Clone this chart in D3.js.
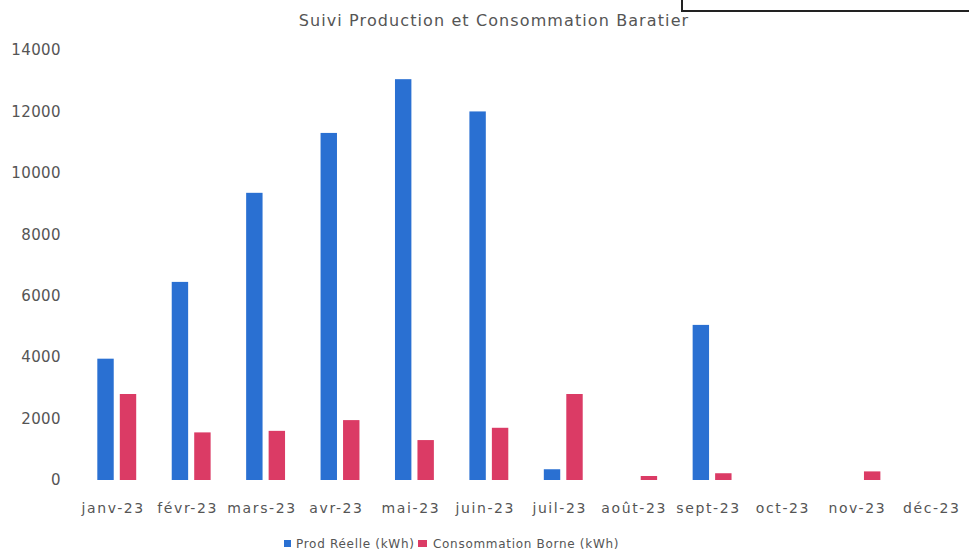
<!DOCTYPE html>
<html>
<head>
<meta charset="utf-8">
<script src="https://cdn.jsdelivr.net/npm/d3@7"></script>
<style>
  body { margin: 0; background: #fff; }
  text { font-family: "DejaVu Sans", sans-serif; fill: #555; }
</style>
</head>
<body>
<div id="chart-div"></div>
<script>
// data
const months = ["janv-23", "févr-23", "mars-23", "avr-23", "mai-23", "juin-23",
                "juil-23", "août-23", "sept-23", "oct-23", "nov-23", "déc-23"];
const prodReelle = [3950, 6450, 9350, 11300, 13050, 12000, 350, 0, 5050, 0, 0, 0];
const consoBorne = [2800, 1550, 1600, 1950, 1300, 1700, 2800, 130, 220, 0, 280, 0];
const yTicks = [0, 2000, 4000, 6000, 8000, 10000, 12000, 14000];
const seriesNames = ["Prod Réelle (kWh)", "Consommation Borne (kWh)"];
const colors = ["#2a70d2", "#db3b65"];

/* size of the svg */
const width = 969;
const height = 555;
const plotLeft = 76, plotRight = 969, plotTop = 50, plotBottom = 480;

const svg = d3.select("#chart-div")
              .append("svg")
              .attr("width", width)
              .attr("height", height);

const xScale = d3.scaleBand().domain(months).range([plotLeft, plotRight]);
const subScale = d3.scaleBand().domain([0, 1])
                   .range([0, xScale.bandwidth()])
                   .paddingInner(0.27).paddingOuter(0.79).align(0.6);
const yScale = d3.scaleLinear().domain([0, 14000]).range([plotBottom, plotTop]);

// y axis, labels only
const yAxis = d3.axisLeft(yScale).tickValues(yTicks).tickFormat(d3.format("d"))
                .tickSize(0).tickPadding(0);
svg.append("g")
   .attr("transform", `translate(${plotLeft - 15},0)`)
   .call(yAxis)
   .call(g => g.select(".domain").remove())
   .selectAll("text")
   .style("font-size", "15px")
   .style("font-family", "DejaVu Sans")
   .style("letter-spacing", "0.4px")
   .attr("fill", "#555");

// x axis, labels only
const xAxis = d3.axisBottom(xScale).tickSize(0).tickPadding(0);
svg.append("g")
   .attr("transform", `translate(0,${plotBottom + 23})`)
   .call(xAxis)
   .call(g => g.select(".domain").remove())
   .selectAll("text")
   .style("font-size", "14px")
   .style("font-family", "DejaVu Sans")
   .style("letter-spacing", "1.6px")
   .attr("fill", "#555");

// bars
const rows = months.map((m, i) => ({month: m, vals: [prodReelle[i], consoBorne[i]]}));
const groups = svg.selectAll("g.month")
   .data(rows)
   .enter()
   .append("g")
   .attr("class", "month")
   .attr("transform", (d) => `translate(${xScale(d.month)},0)`);

groups.selectAll("rect")
   .data((d) => d.vals.map((v, k) => ({k: k, v: v})).filter((e) => e.v > 0))
   .enter()
   .append("rect")
   .attr("x", (e) => subScale(e.k))
   .attr("y", (e) => yScale(e.v))
   .attr("width", subScale.bandwidth())
   .attr("height", (e) => plotBottom - yScale(e.v))
   .attr("fill", (e) => colors[e.k]);

// title
svg.append("text")
   .attr("x", 494)
   .attr("y", 26)
   .attr("text-anchor", "middle")
   .style("font-size", "16px")
   .style("letter-spacing", "1.1px")
   .text("Suivi Production et Consommation Baratier");

// the cut-off box in the top right corner
svg.append("path")
   .attr("d", "M682,0 V11 H969")
   .attr("fill", "none")
   .attr("stroke", "#222")
   .attr("stroke-width", 2);

// legend
const legendX = [284, 418];
const legend = svg.selectAll("g.legend")
   .data(seriesNames)
   .enter()
   .append("g")
   .attr("class", "legend")
   .attr("transform", (d, i) => `translate(${legendX[i]},548)`);
legend.append("rect")
   .attr("x", 0).attr("y", -8)
   .attr("width", (d, i) => i ? 9 : 7).attr("height", 7)
   .attr("fill", (d, i) => colors[i]);
legend.append("text")
   .attr("x", (d, i) => i ? 15 : 12)
   .attr("y", 0)
   .style("font-size", "12px")
   .style("letter-spacing", "0.7px")
   .text((d) => d);
</script>
</body>
</html>
